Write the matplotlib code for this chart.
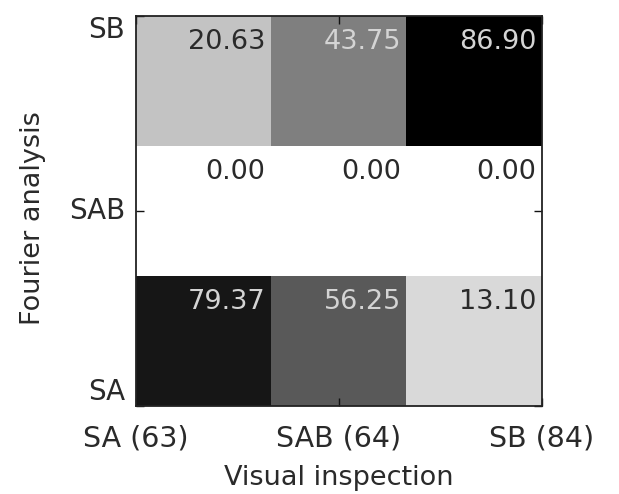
import matplotlib
matplotlib.use("Agg")
import matplotlib.pyplot as plt
import numpy as np

# Classification agreement (%) between visual inspection and Fourier analysis
visual_labels = ["SA (63)", "SAB (64)", "SB (84)"]
fourier_labels = ["SA", "SAB", "SB"]
# rows: Fourier class (SA, SAB, SB); columns: visual class (SA, SAB, SB)
row_sa = [79.37, 56.25, 13.10]
row_sab = [0.00, 0.00, 0.00]
row_sb = [20.63, 43.75, 86.90]

values = np.array([row_sa, row_sab, row_sb])
nrows, ncols = values.shape

plt.rcParams["font.family"] = ["DejaVu Sans"]
fig = plt.figure(figsize=(6.19, 4.94), dpi=100)
ax = fig.add_axes([136 / 619, 1 - 406 / 494, 406 / 619, 390 / 494])

ax.imshow(values, cmap="gray_r", vmin=0, vmax=values.max(), origin="lower",
          extent=[0, 2, 0, 2], aspect="auto", interpolation="nearest")
ax.set_xlim(0, 2)
ax.set_ylim(0, 2)

cw = 2 / ncols
ch = 2 / nrows
for i in range(nrows):
    for j in range(ncols):
        v = values[i, j]
        color = "#d4d4d4" if v > values.max() * 0.45 else "#2a2a2a"
        ax.annotate(f"{v:.2f}", xy=((j + 1) * cw, (i + 1) * ch),
                    xytext=(-4.3, -23.8), textcoords="offset points",
                    ha="right", va="baseline", fontsize=19.5, color=color)

ax.set_xticks([0, 1, 2])
ax.set_xticklabels(visual_labels, fontsize=20.5, color="#2a2a2a")
ax.set_yticks([0, 1, 2])
ax.set_yticklabels(fourier_labels, fontsize=20, color="#2a2a2a")
ylabels = ax.get_yticklabels()
ylabels[0].set_va("bottom")
ylabels[1].set_va("center")
ylabels[2].set_va("top")

ax.tick_params(axis="both", direction="in", length=6, width=1,
               top=True, right=True, color="#111111")
ax.tick_params(axis="x", pad=13)
ax.tick_params(axis="y", pad=8)
for s in ax.spines.values():
    s.set_linewidth(1.3)
    s.set_color("#222222")

fig.text(339 / 619, 1 - 485 / 494, "Visual inspection", ha="center", va="baseline",
         fontsize=19.5, color="#2a2a2a")
fig.text(33 / 619, 1 - 218 / 494, "Fourier analysis", ha="center", va="center",
         rotation=90, fontsize=19.5, color="#2a2a2a")

fig.savefig("out.png", dpi=100)
